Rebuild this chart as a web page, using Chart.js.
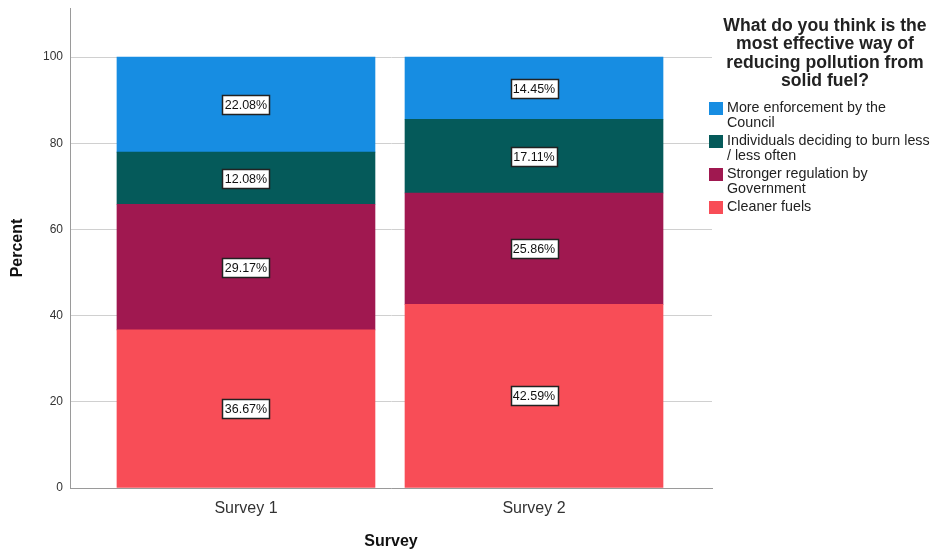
<!DOCTYPE html>
<html>
<head>
<meta charset="utf-8">
<script src="https://cdn.jsdelivr.net/npm/chart.js@4/dist/chart.umd.min.js"></script>
<style>
  html, body { margin: 0; padding: 0; background: #fff; }
  #wrap { position: relative; width: 937px; height: 553px; }
  #legend { position: absolute; left: 709px; top: 16px; width: 228px; font-family: "Liberation Sans", Arial, sans-serif; color: #222; }
  #legend .title { font-weight: bold; font-size: 17.6px; line-height: 18.3px; text-align: center; margin-bottom: 11px; margin-left: 4px; }
  #legend .item { display: flex; align-items: flex-start; margin-bottom: 3px; }
  #legend .sw { width: 14px; height: 13px; flex: none; margin-top: 2px; margin-right: 4px; }
  #legend .txt { font-size: 14.3px; line-height: 15px; white-space: nowrap; }
</style>
</head>
<body>
<div id="wrap">
  <canvas id="chart" width="937" height="553"></canvas>
  <div id="legend"></div>
</div>
<script>
// datos (de abajo hacia arriba en la pila)
const surveys = ['Survey 1', 'Survey 2'];
const seriesNames = [
  'Cleaner fuels',
  'Stronger regulation by\nGovernment',
  'Individuals deciding to burn less\n/ less often',
  'More enforcement by the\nCouncil'
];
const cleanerFuels = [36.67, 42.59];
const strongerRegulation = [29.17, 25.86];
const individualsBurnLess = [12.08, 17.11];
const moreEnforcement = [22.08, 14.45];
const seriesColors = ['#f84d57', '#a01850', '#055a5a', '#178de2'];
const yTicks = [0, 20, 40, 60, 80, 100];
const legendTitle = ['What do you think is the', 'most effective way of', 'reducing pollution from', 'solid fuel?'];

const FONT = '"Liberation Sans", Arial, sans-serif';
const seriesValues = [cleanerFuels, strongerRegulation, individualsBurnLess, moreEnforcement];

const datasets = seriesValues.map((vals, i) => ({
    label: seriesNames[i].replace('\n', ' '),
    data: vals.map((v, j) => ({ x: j + 1, y: v })),
    backgroundColor: seriesColors[i],
    borderWidth: 0,
    stack: 'a',
    barThickness: 258
}));

// etiquetas con recuadro blanco en el centro de cada segmento
const boxLabels = {
    id: 'boxLabels',
    afterDatasetsDraw(chart) {
        const ctx = chart.ctx;
        ctx.save();
        ctx.font = '12.5px ' + FONT;
        ctx.textAlign = 'center';
        ctx.textBaseline = 'middle';
        chart.data.datasets.forEach((ds, i) => {
            const meta = chart.getDatasetMeta(i);
            meta.data.forEach((bar, j) => {
                const { x, y, base } = bar.getProps(['x', 'y', 'base'], true);
                const cy = (y + base) / 2;
                const text = ds.data[j].y.toFixed(2) + '%';
                const w = Math.round(ctx.measureText(text).width + 5);
                const h = 19;
                const bx = Math.round(x - w / 2) + 0.5;
                const by = Math.round(cy - h / 2) + 0.5;
                ctx.fillStyle = '#fff';
                ctx.fillRect(bx, by, w, h);
                ctx.strokeStyle = '#222';
                ctx.lineWidth = 1.5;
                ctx.strokeRect(bx, by, w, h);
                ctx.fillStyle = '#111';
                ctx.fillText(text, x, cy + 1);
            });
        });
        ctx.restore();
    }
};

const ctx = document.getElementById('chart').getContext('2d');
const chart = new Chart(ctx, {
    type: 'bar',
    data: { datasets: datasets },
    options: {
        responsive: false,
        animation: false,
        layout: { padding: { top: 8, right: 225, left: 0, bottom: 0 } },
        plugins: {
            legend: { display: false },
            tooltip: { enabled: false }
        },
        scales: {
            x: {
                type: 'linear',
                offset: false,
                min: 0.389,
                max: 2.618,
                afterBuildTicks: (scale) => { scale.ticks = surveys.map((s, i) => ({ value: i + 1 })); },
                afterFit: (scale) => { scale.height = 65; scale.paddingLeft = 0; scale.paddingRight = 0; },
                grid: { display: false, drawTicks: false, offset: false },
                border: { color: '#9a9a9a', width: 1 },
                ticks: {
                    padding: 11,
                    color: '#333',
                    font: { family: FONT, size: 16 },
                    callback: (v) => surveys[v - 1]
                },
                title: {
                    display: true,
                    text: 'Survey',
                    color: '#111',
                    font: { family: FONT, size: 16, weight: 'bold' },
                    padding: { top: 0, bottom: 2 }
                }
            },
            y: {
                stacked: true,
                min: 0,
                max: 111.37,
                afterBuildTicks: (scale) => { scale.ticks = yTicks.map(v => ({ value: v })); },
                afterFit: (scale) => { scale.width = 70; scale.paddingTop = 0; scale.paddingBottom = 0; },
                grid: { color: '#d0d0d0', drawTicks: false },
                border: { color: '#9a9a9a', width: 1 },
                ticks: {
                    padding: 7,
                    color: '#333',
                    font: { family: FONT, size: 12 }
                },
                title: {
                    display: true,
                    text: 'Percent',
                    color: '#111',
                    font: { family: FONT, size: 16, weight: 'bold' },
                    padding: { top: 8, bottom: 0 }
                }
            }
        }
    },
    plugins: [boxLabels]
});

// leyenda en HTML (orden invertido, como en la pila)
function buildLegend() {
    const el = document.getElementById('legend');
    const title = document.createElement('div');
    title.className = 'title';
    title.innerHTML = legendTitle.join('<br>');
    el.appendChild(title);
    for (let i = seriesNames.length - 1; i >= 0; i--) {
        const item = document.createElement('div');
        item.className = 'item';
        const sw = document.createElement('div');
        sw.className = 'sw';
        sw.style.background = seriesColors[i];
        const txt = document.createElement('div');
        txt.className = 'txt';
        txt.innerHTML = seriesNames[i].split('\n').join('<br>');
        item.appendChild(sw);
        item.appendChild(txt);
        el.appendChild(item);
    }
}
buildLegend();
</script>
</body>
</html>
